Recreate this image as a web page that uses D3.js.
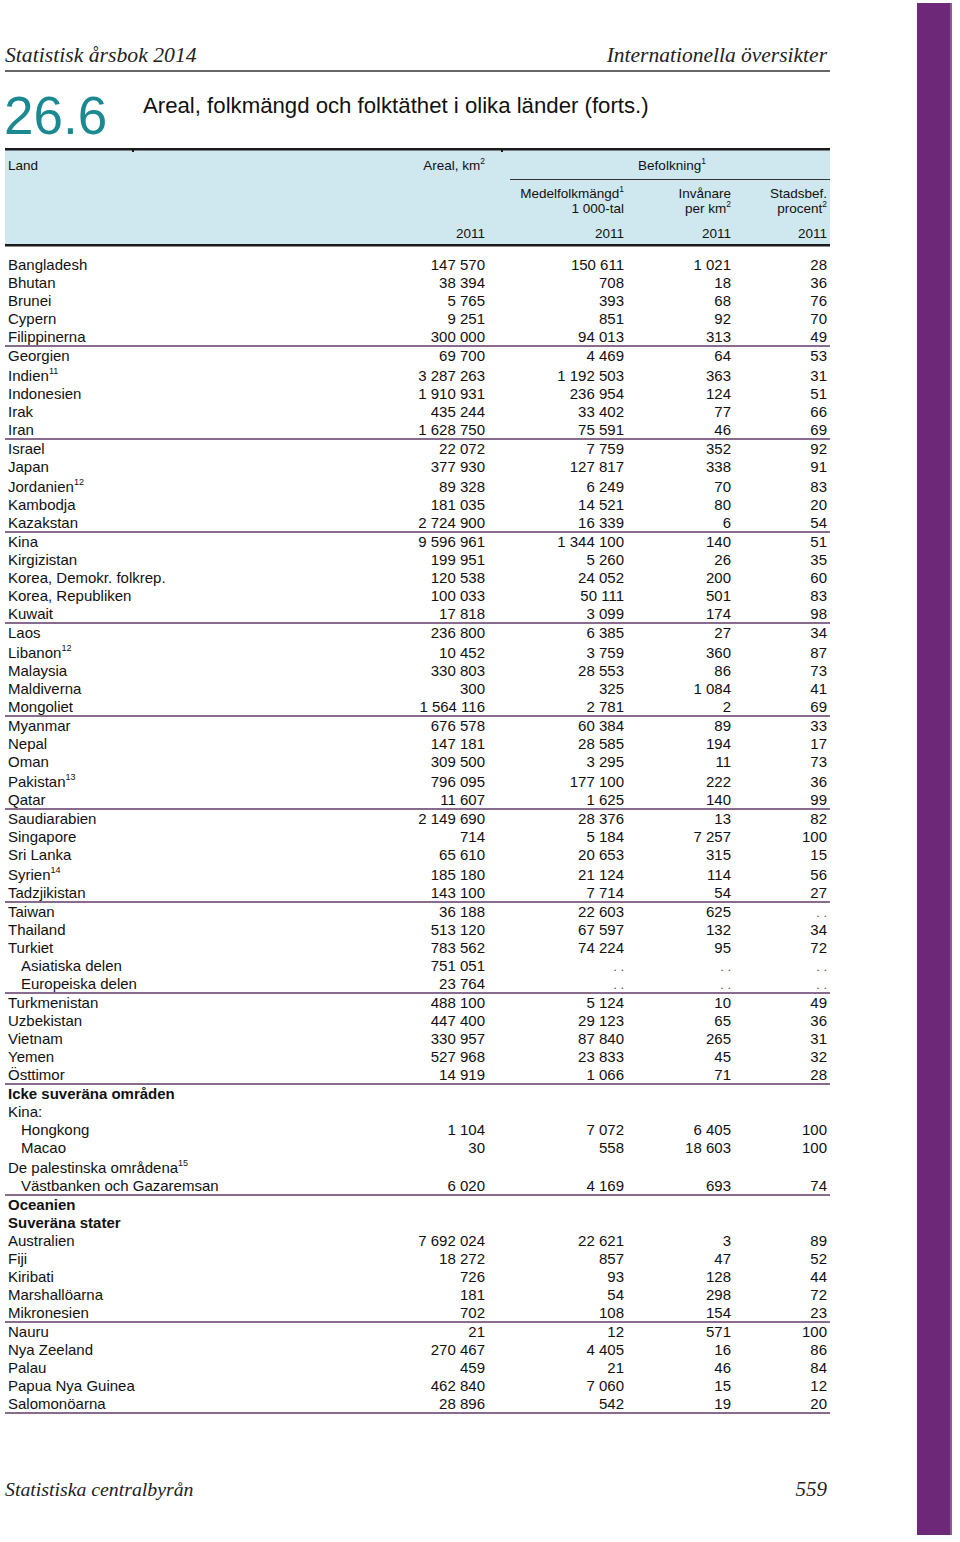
<!DOCTYPE html>
<html><head><meta charset="utf-8">
<script src="https://cdn.jsdelivr.net/npm/d3@7"></script>
<style>
html,body{margin:0;padding:0;background:#fff;}
text{font-family:Arial,"Liberation Sans",sans-serif;fill:#111;}
.serif{font-family:"Liberation Serif","Times New Roman",serif;font-style:italic;fill:#222;}
</style></head>
<body>
<svg id="chart" width="960" height="1542"></svg>
<script>
// ---------- data ----------
const names = ["Bangladesh","Bhutan","Brunei","Cypern","Filippinerna","Georgien","Indien","Indonesien","Irak","Iran",
"Israel","Japan","Jordanien","Kambodja","Kazakstan","Kina","Kirgizistan","Korea, Demokr. folkrep.","Korea, Republiken","Kuwait",
"Laos","Libanon","Malaysia","Maldiverna","Mongoliet","Myanmar","Nepal","Oman","Pakistan","Qatar",
"Saudiarabien","Singapore","Sri Lanka","Syrien","Tadzjikistan","Taiwan","Thailand","Turkiet","Asiatiska delen","Europeiska delen",
"Turkmenistan","Uzbekistan","Vietnam","Yemen","Östtimor","Icke suveräna områden","Kina:","Hongkong","Macao","De palestinska områdena",
"Västbanken och Gazaremsan","Oceanien","Suveräna stater","Australien","Fiji","Kiribati","Marshallöarna","Mikronesien","Nauru","Nya Zeeland",
"Palau","Papua Nya Guinea","Salomonöarna"];
const footnotes = {"Indien":"11","Jordanien":"12","Libanon":"12","Pakistan":"13","Syrien":"14","De palestinska områdena":"15"};
const boldRows = ["Icke suveräna områden","Oceanien","Suveräna stater"];
const indentRows = ["Asiatiska delen","Europeiska delen","Hongkong","Macao","Västbanken och Gazaremsan"];
// NA = "..", H = heading row (no values)
const areal = [147570,38394,5765,9251,300000,69700,3287263,1910931,435244,1628750,
22072,377930,89328,181035,2724900,9596961,199951,120538,100033,17818,
236800,10452,330803,300,1564116,676578,147181,309500,796095,11607,
2149690,714,65610,185180,143100,36188,513120,783562,751051,23764,
488100,447400,330957,527968,14919,"H","H",1104,30,"H",
6020,"H","H",7692024,18272,726,181,702,21,270467,
459,462840,28896];
const folkmangd = [150611,708,393,851,94013,4469,1192503,236954,33402,75591,
7759,127817,6249,14521,16339,1344100,5260,24052,50111,3099,
6385,3759,28553,325,2781,60384,28585,3295,177100,1625,
28376,5184,20653,21124,7714,22603,67597,74224,"NA","NA",
5124,29123,87840,23833,1066,"H","H",7072,558,"H",
4169,"H","H",22621,857,93,54,108,12,4405,
21,7060,542];
const invanare = [1021,18,68,92,313,64,363,124,77,46,
352,338,70,80,6,140,26,200,501,174,
27,360,86,1084,2,89,194,11,222,140,
13,7257,315,114,54,625,132,95,"NA","NA",
10,65,265,45,71,"H","H",6405,18603,"H",
693,"H","H",3,47,128,298,154,571,16,
46,15,19];
const stadsbef = [28,36,76,70,49,53,31,51,66,69,
92,91,83,20,54,51,35,60,83,98,
34,87,73,41,69,33,17,73,36,99,
82,100,15,56,27,"NA",34,72,"NA","NA",
49,36,31,32,28,"H","H",100,100,"H",
74,"H","H",89,52,44,72,23,100,86,
84,12,20];
// rows after which a separator line is drawn
const separatorsAfter = ["Filippinerna","Iran","Kazakstan","Kuwait","Mongoliet","Qatar","Tadzjikistan","Europeiska delen","Östtimor","Västbanken och Gazaremsan","Mikronesien","Salomonöarna"];
const yearLabel = "2011";

// ---------- drawing ----------
const svg = d3.select("#chart");
const fmtRaw = d3.format(",d");
const fmt = v => v==="NA" ? ". ." : (v==="H" ? "" : fmtRaw(v).replace(/,/g," "));

// page decorations
svg.append("rect").attr("x",917).attr("y",3).attr("width",35).attr("height",1532).attr("fill","#6d2877");
svg.append("rect").attr("x",950).attr("y",3).attr("width",2).attr("height",1532).attr("fill","#8d5a95");

svg.append("text").attr("class","serif").attr("x",5).attr("y",62).attr("font-size",21.7).text("Statistisk årsbok 2014");
svg.append("text").attr("class","serif").attr("x",827).attr("y",62).attr("font-size",21.5).attr("text-anchor","end").text("Internationella översikter");
svg.append("line").attr("x1",5).attr("x2",830).attr("y1",71).attr("y2",71).attr("stroke","#333").attr("stroke-width",1.3);

svg.append("text").attr("x",4).attr("y",134).attr("font-size",53).style("fill","#1b8990").text("26.6");
svg.append("text").attr("x",143).attr("y",113).attr("font-size",22.2).text("Areal, folkmängd och folktäthet i olika länder (forts.)");

// column x positions (right edges of numeric columns)
const colX = d3.scaleOrdinal().domain(["land","areal","folk","inv","stad"]).range([8,485,624,731,827]);
const xL = d3.scaleLinear().domain([0,825]).range([5,830]);

// header block
svg.append("rect").attr("x",xL(0)).attr("y",150).attr("width",xL(825)-xL(0)).attr("height",95).attr("fill","#cfe7ee");
svg.append("rect").attr("x",xL(0)).attr("y",148).attr("width",xL(825)-xL(0)).attr("height",2.5).attr("fill","#1a1a1a");
svg.append("rect").attr("x",xL(0)).attr("y",244).attr("width",xL(825)-xL(0)).attr("height",2.5).attr("fill","#1a1a1a");
[133,502].forEach(x=>svg.append("rect").attr("x",x-1).attr("y",149).attr("width",2).attr("height",3).attr("fill","#1a1a1a"));
svg.append("line").attr("x1",510).attr("x2",830).attr("y1",179.5).attr("y2",179.5).attr("stroke","#333").attr("stroke-width",1);

function hdr(x,y,txt,sup,anchor){
  const t = svg.append("text").attr("x",x).attr("y",y).attr("font-size",13.5).attr("text-anchor",anchor||"end");
  t.append("tspan").text(txt);
  if(sup) t.append("tspan").attr("font-size",8.5).attr("dy",-6).text(sup);
  return t;
}
hdr(colX("land"),170,"Land",null,"start");
hdr(colX("areal"),170,"Areal, km","2");
hdr(672,170,"Befolkning","1","middle");
hdr(colX("folk"),198,"Medelfolkmängd","1");
hdr(colX("folk"),213,"1 000-tal");
hdr(colX("inv"),198,"Invånare");
hdr(colX("inv"),213,"per km","2");
hdr(colX("stad"),198,"Stadsbef.");
hdr(colX("stad"),213,"procent","2");
["areal","folk","inv","stad"].forEach(c=>hdr(colX(c),238,yearLabel));

// row positions: cumulative units
const rows = names.map((n,i)=>({name:n,areal:areal[i],folk:folkmangd[i],inv:invanare[i],stad:stadsbef[i],
  sup:footnotes[n]||null,bold:boldRows.includes(n),indent:indentRows.includes(n),
  sepBefore: i>0 && separatorsAfter.includes(names[i-1]), sepAfter: separatorsAfter.includes(n)}));
let acc = 0;
rows.forEach((r,i)=>{ if(i>0){ acc += 18 + (r.sepBefore?1:0) + (r.sup?2:0); } r.pos = acc; });
const y = d3.scaleLinear().domain([0,1]).range([264,265]);

const g = svg.append("g");
const rg = g.selectAll("g.row").data(rows).join("g").attr("class","row").attr("transform",d=>`translate(0,${y(d.pos)})`);
rg.each(function(d){
  const s = d3.select(this);
  const t = s.append("text").attr("x",colX("land")+(d.indent?13:0)).attr("y",5.5).attr("font-size",15)
    .attr("font-weight",d.bold?"bold":"normal");
  t.append("tspan").text(d.name);
  if(d.sup) t.append("tspan").attr("font-size",9).attr("dy",-7).text(d.sup);
  [["areal",d.areal],["folk",d.folk],["inv",d.inv],["stad",d.stad]].forEach(([c,v])=>{
    if(v==="H") return;
    s.append("text").attr("x",colX(c)).attr("y",5.5).attr("font-size",v==="NA"?13:15)
      .attr("text-anchor","end").style("fill",v==="NA"?"#555":"#111").text(fmt(v));
  });
  if(d.sepAfter){
    s.append("line").attr("x1",xL(0)).attr("x2",xL(825)).attr("y1",10).attr("y2",10)
      .attr("stroke","#613a68").attr("stroke-width",1.6);
  }
});

svg.append("text").attr("class","serif").attr("x",5).attr("y",1496).attr("font-size",19.8).text("Statistiska centralbyrån");
svg.append("text").attr("class","serif").attr("x",827).attr("y",1496).attr("font-size",21).attr("text-anchor","end").text("559");
</script>
</body></html>
